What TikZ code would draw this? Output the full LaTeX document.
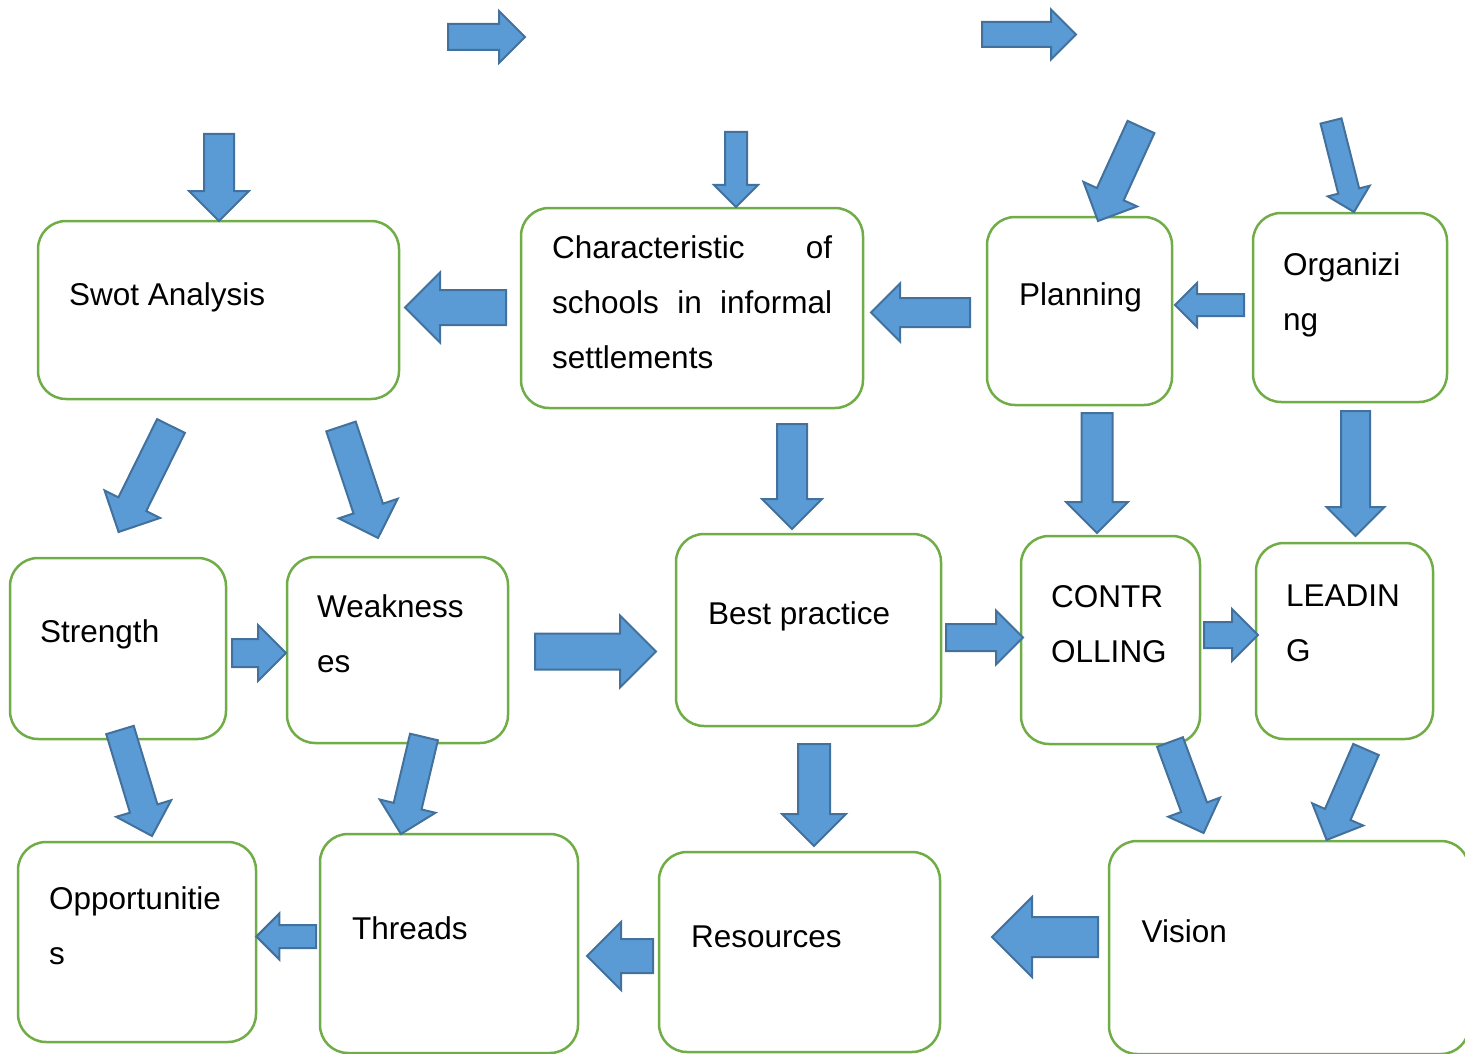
\documentclass[tikz,border=0pt]{standalone}
\usepackage{fontspec}
\setmainfont{Liberation Sans}
\definecolor{BoxGreen}{HTML}{70AD47}
\definecolor{ArrowFill}{HTML}{5B9BD5}
\definecolor{ArrowLine}{HTML}{41719C}

\begin{document}
\begin{tikzpicture}[x=1pt,y=-1pt,
  box/.style={draw=BoxGreen,line width=2.5pt,rounded corners=28pt,fill=white,
    anchor=north west,inner sep=0pt,outer sep=0pt},
  lbl/.style={anchor=north west,inner sep=0pt,align=left,
    font=\fontsize{31.5}{55}\selectfont},
  blockarr/.style={fill=ArrowFill,draw=ArrowLine,line width=2pt,line join=miter}]
\useasboundingbox (0,0) rectangle (1465,1054);
% boxes
\node[box,minimum width=361pt,minimum height=178pt] (swot) at (38,221) {};
\node[box,minimum width=342pt,minimum height=200pt] (chars) at (521,208) {};
\node[box,minimum width=185pt,minimum height=188pt] (plan) at (987,217) {};
\node[box,minimum width=194pt,minimum height=189pt] (org) at (1253,213) {};
\node[box,minimum width=216pt,minimum height=181pt] (strength) at (10,558) {};
\node[box,minimum width=221pt,minimum height=186pt] (weak) at (287,557) {};
\node[box,minimum width=265pt,minimum height=192pt] (best) at (676,534) {};
\node[box,minimum width=179pt,minimum height=208pt] (ctrl) at (1021,536) {};
\node[box,minimum width=177pt,minimum height=196pt] (lead) at (1256,543) {};
\node[box,minimum width=238pt,minimum height=200pt] (opp) at (18,842) {};
\node[box,minimum width=258pt,minimum height=219pt] (threads) at (320,834) {};
\node[box,minimum width=281pt,minimum height=200pt] (res) at (659,852) {};
\node[box,minimum width=360pt,minimum height=213pt] (vision) at (1109,841) {};
% labels
\node[lbl] (swot-l) at ([shift={(31,45.5)}]swot.north west) {\strut Swot Analysis};
\node[lbl] (chars-l) at ([shift={(31,11.5)}]chars.north west)
  {\strut\makebox[280pt][s]{Characteristic of}\\\makebox[280pt][s]{schools in informal}\\settlements};
\node[lbl] (plan-l) at ([shift={(32,49.5)}]plan.north west) {\strut Planning};
\node[lbl] (org-l) at ([shift={(30,23.5)}]org.north west) {\strut Organizi\\ng};
\node[lbl] (strength-l) at ([shift={(30,45.5)}]strength.north west) {\strut Strength};
\node[lbl] (weak-l) at ([shift={(30,21.5)}]weak.north west) {\strut Weakness\\es};
\node[lbl] (best-l) at ([shift={(32,51.5)}]best.north west) {\strut Best practice};
\node[lbl] (ctrl-l) at ([shift={(30,32.5)}]ctrl.north west) {\strut CONTR\\OLLING};
\node[lbl] (lead-l) at ([shift={(30,24.5)}]lead.north west) {\strut LEADIN\\G};
\node[lbl] (opp-l) at ([shift={(31,28.5)}]opp.north west) {\strut Opportunitie\\s};
\node[lbl] (threads-l) at ([shift={(32,66.5)}]threads.north west) {\strut Threads};
\node[lbl] (res-l) at ([shift={(32,56.5)}]res.north west) {\strut Resources};
\node[lbl] (vision-l) at ([shift={(32.5,62.5)}]vision.north west) {\strut Vision};
% block arrows: tail x/tail y/tip x/tip y/shaft width
\foreach \tx/\ty/\hx/\hy/\w in {448/37/525/37/26, 982/34.5/1076/34.5/25,
    219/134/219/221/30, 736/132/736/207/22, 1141/127/1098/221/29.5,
    1331/121/1354/212/21.6, 506/307.5/405/307.5/35, 970/312.5/871/312.5/29,
    1244/305/1175/305/22, 171/426/118.6/532/31, 341/426.5/378/538/31,
    792/424/792/529/30, 1097/413/1097/533/31, 1355.5/411/1355.5/536/29,
    232/653/286/653/28, 535/651.5/656/651.5/36, 946/637.5/1023/637.5/27,
    1204/635/1258/635/26, 120/730/152/836/28.7, 424/737/401/834/28.6,
    814/744/814/846/32, 1170/742/1203.6/833/27.5, 1366/749.5/1326.6/840/27.8,
    316/936.5/256.4/936.5/23, 653/956/587/956/34, 1098/937/992/937/40}{
  \pgfmathsetmacro\arang{atan2(\ty-\hy,\hx-\tx)}
  \pgfmathsetmacro\arlen{veclen(\hx-\tx,\hy-\ty)}
  \begin{scope}[shift={(\tx,\ty)},rotate=\arang]
    \path[blockarr] (0,-\w/2) -- ({\arlen-\w},-\w/2) -- ({\arlen-\w},-\w)
      -- (\arlen,0) -- ({\arlen-\w},\w) -- ({\arlen-\w},\w/2) -- (0,\w/2) -- cycle;
  \end{scope}
}
\end{tikzpicture}
\end{document}
